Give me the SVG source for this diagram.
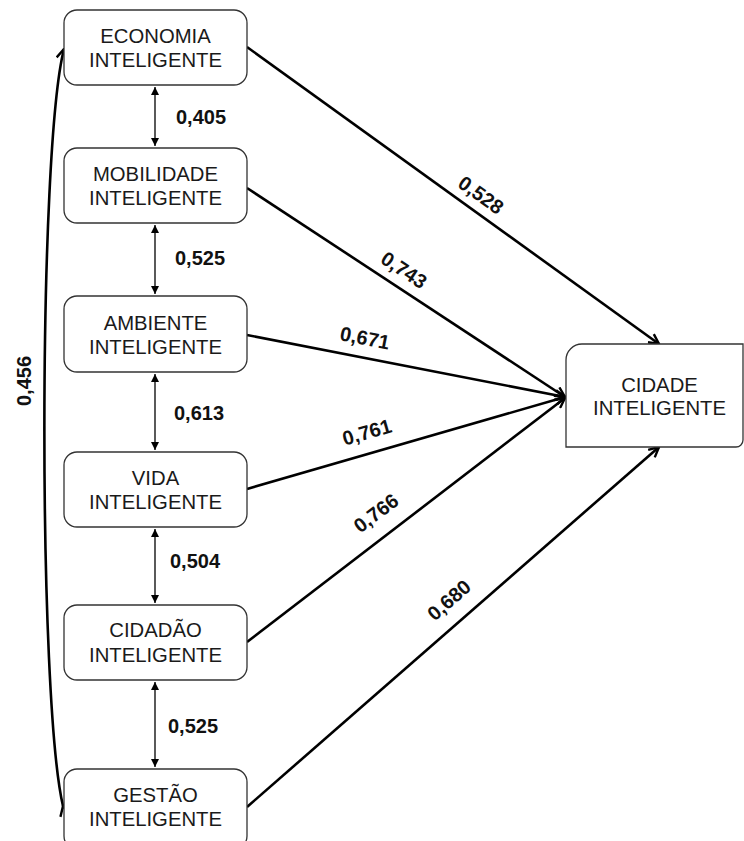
<svg xmlns="http://www.w3.org/2000/svg" width="744" height="841" viewBox="0 0 744 841">
<style>
.box{fill:#fff;stroke:#333;stroke-width:1.3}
.t{font-family:"Liberation Sans",Arial,sans-serif;font-size:20.3px;fill:#1a1a1a;text-anchor:middle}
.n{font-family:"Liberation Sans",Arial,sans-serif;font-size:20px;font-weight:bold;fill:#111}
.c{fill:none;stroke:#000;stroke-width:2.6}
.v{fill:none;stroke:#000;stroke-width:1.3}
</style>
<defs>
<marker id="ah" viewBox="0 0 12 12" refX="11" refY="6" markerWidth="12" markerHeight="12" markerUnits="userSpaceOnUse" orient="auto">
<path d="M1,1 L11,6 L1,11" fill="none" stroke="#000" stroke-width="2.4"/>
</marker>
<marker id="sh" viewBox="0 0 10 10" refX="10" refY="5" markerWidth="8" markerHeight="8" markerUnits="userSpaceOnUse" orient="auto-start-reverse">
<path d="M0,0 L10,5 L0,10 Z" fill="#000"/>
</marker>
</defs>
<rect width="744" height="841" fill="#fff"/>
<g id="connectors">
<path class="c" d="M247,47 L659,344" marker-end="url(#ah)"/>
<path class="c" d="M247,188 L565,397" marker-end="url(#ah)"/>
<path class="c" d="M247,335 L565,397" marker-end="url(#ah)"/>
<path class="c" d="M247,489 L565,397" marker-end="url(#ah)"/>
<path class="c" d="M247,642 L565,398" marker-end="url(#ah)"/>
<path class="c" d="M247,807 L659,447" marker-end="url(#ah)"/>
<path class="c" d="M63,806 C38,700 38,150 64,49" marker-start="url(#ah)" marker-end="url(#ah)"/>
<path class="v" d="M155,87 L155,146" marker-start="url(#sh)" marker-end="url(#sh)"/>
<path class="v" d="M155,225 L155,294" marker-start="url(#sh)" marker-end="url(#sh)"/>
<path class="v" d="M155,374 L155,450" marker-start="url(#sh)" marker-end="url(#sh)"/>
<path class="v" d="M155,529 L155,603" marker-start="url(#sh)" marker-end="url(#sh)"/>
<path class="v" d="M155,682 L155,767" marker-start="url(#sh)" marker-end="url(#sh)"/>
<text class="n" x="176" y="124">0,405</text>
<text class="n" x="175" y="265">0,525</text>
<text class="n" x="174" y="420">0,613</text>
<text class="n" x="170" y="568">0,504</text>
<text class="n" x="168" y="733">0,525</text>
<text class="n" text-anchor="middle" transform="translate(481,195) rotate(35.9)" y="7">0,528</text>
<text class="n" text-anchor="middle" transform="translate(404,270) rotate(33.6)" y="7">0,743</text>
<text class="n" text-anchor="middle" transform="translate(365,338) rotate(11)" y="7">0,671</text>
<text class="n" text-anchor="middle" transform="translate(367,432) rotate(-16)" y="7">0,761</text>
<text class="n" text-anchor="middle" transform="translate(376,513) rotate(-37)" y="7">0,766</text>
<text class="n" text-anchor="middle" transform="translate(449,600) rotate(-40.9)" y="7">0,680</text>
<text class="n" text-anchor="middle" transform="translate(24,381) rotate(-90)" y="7">0,456</text>
</g>
<g id="economia"><rect class="box" x="64" y="10" width="183" height="75" rx="13"/><text class="t" x="155.5" y="43">ECONOMIA</text><text class="t" x="155.5" y="67">INTELIGENTE</text></g>
<g id="mobilidade"><rect class="box" x="64" y="148" width="183" height="75" rx="13"/><text class="t" x="155.5" y="181">MOBILIDADE</text><text class="t" x="155.5" y="205">INTELIGENTE</text></g>
<g id="ambiente"><rect class="box" x="64" y="296" width="183" height="76" rx="13"/><text class="t" x="155.5" y="330">AMBIENTE</text><text class="t" x="155.5" y="354">INTELIGENTE</text></g>
<g id="vida"><rect class="box" x="64" y="452" width="183" height="75" rx="13"/><text class="t" x="155.5" y="485">VIDA</text><text class="t" x="155.5" y="509">INTELIGENTE</text></g>
<g id="cidadao"><rect class="box" x="64" y="605" width="183" height="75" rx="13"/><text class="t" x="155.5" y="637">CIDADÃO</text><text class="t" x="155.5" y="662">INTELIGENTE</text></g>
<g id="gestao"><rect class="box" x="64" y="769" width="183" height="80" rx="13"/><text class="t" x="155.5" y="802">GESTÃO</text><text class="t" x="155.5" y="826">INTELIGENTE</text></g>
<g id="cidade"><path class="box" d="M566,447 L566,360 A16,16 0 0 1 582,344 L743,344 L743,440 A7,7 0 0 1 736,447 Z"/><text class="t" x="659.5" y="392">CIDADE</text><text class="t" x="659.5" y="415">INTELIGENTE</text></g>
</svg>
